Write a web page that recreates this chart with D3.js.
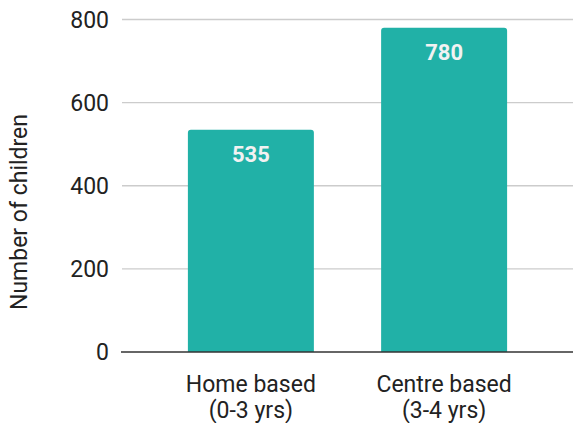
<!DOCTYPE html>
<html>
<head>
<meta charset="utf-8">
<script src="https://cdn.jsdelivr.net/npm/d3@7"></script>
<style>
html,body{margin:0;padding:0;background:#fff;}
svg{display:block;font-family:Roboto, sans-serif;}
</style>
</head>
<body>
<svg id="chart" width="573" height="423"></svg>
<script>
const categories = [["Home based","(0-3 yrs)"],["Centre based","(3-4 yrs)"]];
const values = [535, 780];
const yTicks = [0, 200, 400, 600, 800];
const yTitle = "Number of children";

const svg = d3.select("#chart");
const x = d3.scaleBand().domain(d3.range(values.length)).range([122, 573]).paddingInner(0.348).paddingOuter(0.341);
const y = d3.scaleLinear().domain([0, 800]).range([352, 19.5]);

// gridlines
svg.append("g").selectAll("line").data(yTicks.filter(d=>d>0)).join("line")
  .attr("x1",122).attr("x2",573).attr("y1",d=>y(d)).attr("y2",d=>y(d))
  .attr("stroke","#cccccc").attr("stroke-width",1.3);

// y tick labels
svg.append("g").selectAll("text").data(yTicks).join("text")
  .attr("x",109).attr("y",d=>y(d)).attr("dy","0.36em")
  .attr("text-anchor","end").attr("font-size",23).attr("fill","#222")
  .text(d=>d);

// bars with rounded top
const r = 3;
svg.append("g").selectAll("path").data(values).join("path")
  .attr("fill","#21b1a7")
  .attr("d",(d,i)=>{
    const x0 = x(i), x1 = x(i)+x.bandwidth(), y0 = y(d), yb = y(0);
    return `M${x0},${yb}V${y0+r}Q${x0},${y0} ${x0+r},${y0}H${x1-r}Q${x1},${y0} ${x1},${y0+r}V${yb}Z`;
  });

// value labels
svg.append("g").selectAll("text").data(values).join("text")
  .attr("x",(d,i)=>x(i)+x.bandwidth()/2).attr("y",d=>y(d)+32)
  .attr("text-anchor","middle").attr("font-size",22).attr("font-weight","bold").attr("fill","#f2f2f2")
  .text(d=>d);

// baseline axis
svg.append("line").attr("x1",121).attr("x2",573).attr("y1",y(0)).attr("y2",y(0))
  .attr("stroke","#333").attr("stroke-width",1.3);

// x labels
const xl = svg.append("g").selectAll("text").data(categories).join("text")
  .attr("x",(d,i)=>x(i)+x.bandwidth()/2).attr("y",392)
  .attr("text-anchor","middle").attr("font-size",23).attr("fill","#222");
xl.selectAll("tspan").data(d=>d).join("tspan")
  .attr("x",function(){return this.parentNode.getAttribute("x");})
  .attr("dy",(d,i)=>i===0?0:26).text(d=>d);

// y title
svg.append("text").attr("transform",`translate(27,212) rotate(-90)`)
  .attr("text-anchor","middle").attr("font-size",23).attr("fill","#222").text(yTitle);
</script>
</body>
</html>
